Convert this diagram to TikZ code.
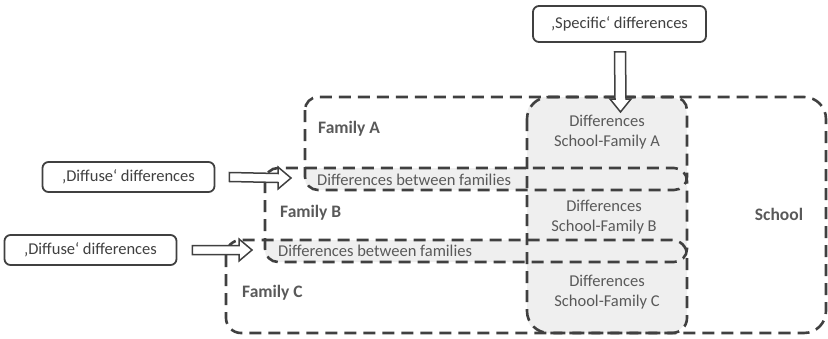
\documentclass[tikz,border=0pt]{standalone}
\usepackage{fontspec}
\setmainfont{Carlito}
\usetikzlibrary{calc}
\definecolor{lineC}{HTML}{404040}
\definecolor{txtC}{HTML}{595959}
\definecolor{boxtxt}{HTML}{404040}
\definecolor{greyF}{HTML}{EFEFEF}
\tikzset{
  region/.style={draw=lineC, line width=2.6pt, dash pattern=on 12pt off 7pt},
  labelbox/.style={draw=lineC, line width=1.8pt, rounded corners=6pt, fill=white,
    text=boxtxt, font=\fontsize{16.5}{18}\selectfont, inner sep=0pt},
  famlabel/.style={text=txtC, font=\bfseries\fontsize{17.5}{20}\selectfont, anchor=west, inner sep=0pt},
  difflabel/.style={text=txtC, font=\fontsize{16.5}{20}\selectfont, align=center, inner sep=0pt},
  bandlabel/.style={text=txtC, font=\fontsize{16.5}{18}\selectfont, anchor=west, inner sep=0pt},
  blockarrow/.style={draw=lineC, line width=1.5pt, fill=white, line join=miter}
}
\begin{document}
\begin{tikzpicture}[x=1pt,y=-1pt]
\useasboundingbox (0,0) rectangle (828,338);
% grey fills
\fill[greyF, rounded corners=18pt] (527,97) rectangle (687,333);
\begin{scope}
  \clip (305,168) rectangle (527,190);
  \fill[greyF, rounded corners=11pt] (305,140) rectangle (560,190);
\end{scope}
\begin{scope}
  \clip (265,240) rectangle (527,262);
  \fill[greyF, rounded corners=11pt] (265,210) rectangle (560,262);
\end{scope}
% dashed regions
\draw[region, rounded corners=22pt] (527,97) rectangle (826,333);
\draw[region, rounded corners=13pt] (305,97) rectangle (687,190);
\draw[region, rounded corners=13pt] (265,168) rectangle (687,262);
\draw[region, rounded corners=15pt] (226,240) rectangle (687,333);
% labels
\node[famlabel] (famA) at (318,129) {Family A};
\node[famlabel] (famB) at (280,213) {Family B};
\node[famlabel] (famC) at (242,293) {Family C};
\node[text=txtC, font=\bfseries\fontsize{17.5}{20}\selectfont, inner sep=0pt] (school) at (779,214) {School};
\node[bandlabel] (bandA) at (317,180) {Differences between families};
\node[bandlabel] (bandB) at (278,251) {Differences between families};
\node[difflabel] (dA) at (607,132) {Differences\\School-Family A};
\node[difflabel] (dB) at (604,217) {Differences\\School-Family B};
\node[difflabel] (dC) at (607,292) {Differences\\School-Family C};
% label boxes
\node[labelbox, minimum width=173pt, minimum height=36pt] (spec) at (619.5,24) {‚Specific‘ differences};
\node[labelbox, minimum width=172pt, minimum height=30pt] (diff1) at (128.5,177) {‚Diffuse‘ differences};
\node[labelbox, minimum width=172pt, minimum height=30pt] (diff2) at (90.5,250) {‚Diffuse‘ differences};
% arrow end points
\coordinate (tipS) at (620.5,112);
\coordinate (tip1) at (291,178);
\coordinate (tip2) at (252,250);
% block arrows
\draw[blockarrow] ($(spec.south)+(0.5,9)$) ++(-5.5,0) -- ($(tipS)+(-5.5,-13)$) -- ($(tipS)+(-10.5,-13)$) -- (tipS)
  -- ($(tipS)+(10.5,-13)$) -- ($(tipS)+(5.5,-13)$) -- ($(spec.south)+(6,9)$) -- cycle;
\draw[blockarrow] ($(diff1.east)+(14,-4.5)$) -- ($(tip1)+(-13,-4.5)$) -- ($(tip1)+(-13,-11)$) -- (tip1)
  -- ($(tip1)+(-13,11)$) -- ($(tip1)+(-13,4.5)$) -- ($(diff1.east)+(14,4.5)$) -- cycle;
\draw[blockarrow] ($(diff2.east)+(15,-4.5)$) -- ($(tip2)+(-13,-4.5)$) -- ($(tip2)+(-13,-11)$) -- (tip2)
  -- ($(tip2)+(-13,11)$) -- ($(tip2)+(-13,4.5)$) -- ($(diff2.east)+(15,4.5)$) -- cycle;
\end{tikzpicture}
\end{document}
